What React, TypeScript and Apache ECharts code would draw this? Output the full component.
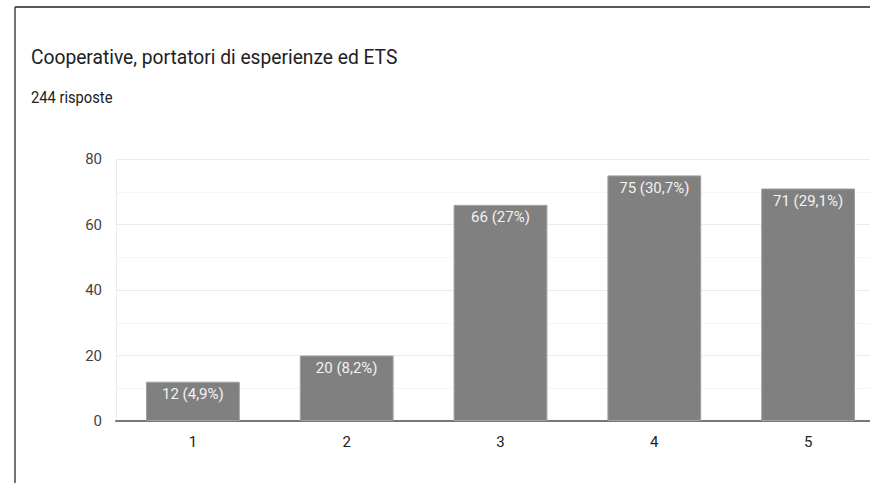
import React, { useEffect, useRef } from "react";
import * as echarts from "echarts";

const categories = ["1", "2", "3", "4", "5"];
const counts = [12, 20, 66, 75, 71];
const percents = ["4,9%", "8,2%", "27%", "30,7%", "29,1%"];
const titleText = "Cooperative, portatori di esperienze ed ETS";
const subtitleText = "244 risposte";

export default function App() {
  const ref = useRef<HTMLDivElement>(null);
  useEffect(() => {
    if (!ref.current) return;
    const chart = echarts.init(ref.current, undefined, { renderer: "svg" });
    chart.setOption({
      animation: false,
      backgroundColor: "#ffffff",
      textStyle: { fontFamily: "Roboto" },
      graphic: [
        { type: "line", shape: { x1: 15, y1: 7, x2: 900, y2: 7 }, style: { stroke: "#222", lineWidth: 1.5 } },
        { type: "line", shape: { x1: 15, y1: 7, x2: 15, y2: 483 }, style: { stroke: "#444", lineWidth: 1.5 } },
        {
          type: "text",
          x: 31,
          y: 57,
          scaleX: 0.915,
          style: { text: titleText, fill: "#202124", font: "21px Roboto", verticalAlign: "middle" },
        },
        {
          type: "text",
          x: 31,
          y: 97.5,
          scaleX: 0.92,
          style: { text: subtitleText, fill: "#202124", font: "16px Roboto", verticalAlign: "middle" },
        },
      ],
      grid: { left: 116, top: 159, bottom: 62, right: 15 },
      xAxis: {
        type: "category",
        data: categories,
        axisLine: { show: true, lineStyle: { color: "#777", width: 2 } },
        axisTick: { show: false },
        axisLabel: { color: "#222", fontSize: 15, margin: 13, fontFamily: "Roboto" },
      },
      yAxis: {
        type: "value",
        min: 0,
        max: 80,
        interval: 20,
        axisLine: { show: true, lineStyle: { color: "#ececec", width: 1 } },
        axisTick: { show: false },
        axisLabel: { color: "#444", fontSize: 15, margin: 14, fontFamily: "Roboto" },
        splitLine: { show: true, lineStyle: { color: "#ebebeb", width: 1 } },
        minorTick: { show: false, splitNumber: 2 },
        minorSplitLine: { show: true, lineStyle: { color: "#f5f5f5", width: 1 } },
      },
      series: [
        {
          type: "bar",
          data: counts,
          barCategoryGap: "39%",
          itemStyle: { color: "#808080", borderColor: "#a0a0a0", borderWidth: 1 },
          label: {
            show: true,
            position: "insideTop",
            distance: 5,
            color: "#f2f2f2",
            fontSize: 15,
            fontFamily: "Roboto",
            formatter: (p: any) => `${counts[p.dataIndex]} (${percents[p.dataIndex]})`,
          },
        },
      ],
    });
    return () => chart.dispose();
  }, []);
  return (
    <div style={{ position: "fixed", left: 0, top: 0, width: 870, height: 483, overflow: "hidden", background: "#fff" }}>
      <div ref={ref} style={{ width: 900, height: 483 }} />
    </div>
  );
}
